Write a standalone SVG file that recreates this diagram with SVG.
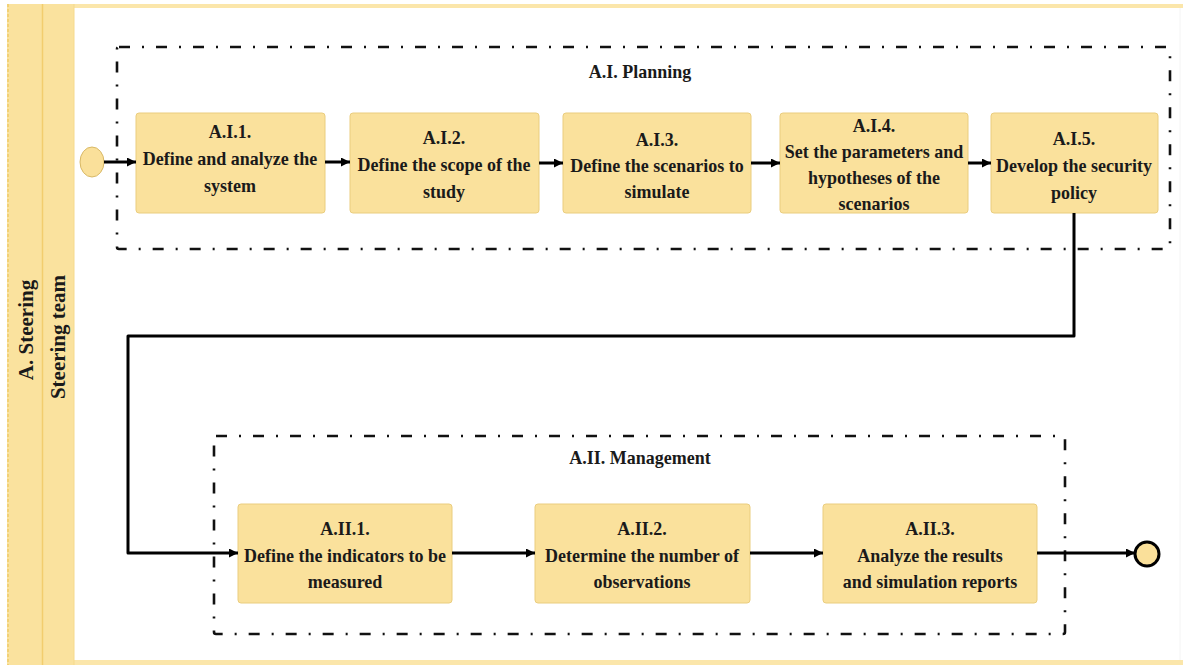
<svg xmlns="http://www.w3.org/2000/svg" width="1183" height="665" viewBox="0 0 1183 665">
  <style>
    .lane { fill: #FAE29E; }
    .lane-edge { stroke: #F2CD6E; stroke-width: 1.5; fill: none; }
    .task { fill: #FAE19C; stroke: #EACD7E; stroke-width: 1; }
    .frame { fill: none; stroke: #111; stroke-width: 2.6; stroke-dasharray: 11 12 2 12; }
    .flow { fill: none; stroke: #000; stroke-width: 3; stroke-linejoin: round; }
    text { font-family: "Liberation Serif", "Times New Roman", serif; font-weight: bold; font-size: 18px; fill: #1a1a1a; text-anchor: middle; dominant-baseline: central; }
    .tall { transform-box: fill-box; transform-origin: center; transform: scaleY(1.1); }
    .lane-label { font-size: 21px; }
  </style>
  <defs>
    <marker id="arrow" viewBox="0 0 10 10" refX="10" refY="5" markerWidth="10" markerHeight="9" markerUnits="userSpaceOnUse" orient="auto">
      <path d="M0,0 L10,5 L0,10 z" fill="#000"/>
    </marker>
  </defs>

  <!-- pool background -->
  <rect x="0" y="0" width="1183" height="665" fill="#fff"/>
  <rect x="7" y="4" width="1176" height="4" fill="#FBE6AA"/>
  <rect x="7" y="660" width="1176" height="5" fill="#FBE6AA"/>
  <line x1="1180" y1="8" x2="1180" y2="660" stroke="#F4F4F4" stroke-width="1"/>

  <!-- pool and lane headers -->
  <g id="pool-steering">
    <rect class="lane" x="7" y="4" width="35" height="661"/>
    <line x1="8" y1="4" x2="8" y2="665" stroke="#F0CC6A" stroke-width="1.5" stroke-dasharray="3 2"/>
    <text class="lane-label" transform="translate(26,330) rotate(-90)">A. Steering</text>
  </g>
  <g id="lane-steering-team">
    <rect class="lane" x="42" y="4" width="32" height="661"/>
    <line class="lane-edge" x1="42.5" y1="4" x2="42.5" y2="665"/>
    <line x1="74" y1="4" x2="74" y2="665" stroke="#F6DA8C" stroke-width="1"/>
    <text class="lane-label" transform="translate(58,337) rotate(-90)">Steering team</text>
  </g>

  <!-- sub-process frames -->
  <g id="planning">
    <rect class="frame" x="117" y="47" width="1053" height="202" rx="2"/>
    <text class="tall" x="640" y="71">A.I. Planning</text>
  </g>
  <g id="management">
    <rect class="frame" x="214" y="436" width="851" height="198" rx="2"/>
    <text class="tall" x="640" y="457">A.II. Management</text>
  </g>

  <!-- events -->
  <g id="start">
    <ellipse cx="92" cy="162" rx="12" ry="15" fill="#FAE09A" stroke="#D8B865" stroke-width="1"/>
  </g>
  <g id="end">
    <circle cx="1147" cy="554" r="12" fill="#FAE09A" stroke="#000" stroke-width="3"/>
  </g>

  <!-- tasks -->
  <g id="A.I.1">
    <rect class="task" x="136" y="113" width="189" height="100" rx="3"/>
    <text class="tall" x="230" y="131">A.I.1.</text>
    <text class="tall" x="230" y="158">Define and analyze the</text>
    <text class="tall" x="230" y="185">system</text>
  </g>
  <g id="A.I.2">
    <rect class="task" x="350" y="113" width="189" height="100" rx="3"/>
    <text class="tall" x="444" y="137">A.I.2.</text>
    <text class="tall" x="444" y="164">Define the scope of the</text>
    <text class="tall" x="444" y="191">study</text>
  </g>
  <g id="A.I.3">
    <rect class="task" x="563" y="113" width="188" height="100" rx="3"/>
    <text class="tall" x="657" y="139">A.I.3.</text>
    <text class="tall" x="657" y="165">Define the scenarios to</text>
    <text class="tall" x="657" y="191">simulate</text>
  </g>
  <g id="A.I.4">
    <rect class="task" x="780" y="113" width="188" height="100" rx="3"/>
    <text class="tall" x="874" y="125">A.I.4.</text>
    <text class="tall" x="874" y="151">Set the parameters and</text>
    <text class="tall" x="874" y="177">hypotheses of the</text>
    <text class="tall" x="874" y="203">scenarios</text>
  </g>
  <g id="A.I.5">
    <rect class="task" x="991" y="113" width="167" height="100" rx="3"/>
    <text class="tall" x="1074" y="138">A.I.5.</text>
    <text class="tall" x="1074" y="165">Develop the security</text>
    <text class="tall" x="1074" y="192">policy</text>
  </g>
  <g id="A.II.1">
    <rect class="task" x="238" y="504" width="214" height="99" rx="3"/>
    <text class="tall" x="345" y="528">A.II.1.</text>
    <text class="tall" x="345" y="555">Define the indicators to be</text>
    <text class="tall" x="345" y="581">measured</text>
  </g>
  <g id="A.II.2">
    <rect class="task" x="535" y="504" width="215" height="99" rx="3"/>
    <text class="tall" x="642" y="528">A.II.2.</text>
    <text class="tall" x="642" y="555">Determine the number of</text>
    <text class="tall" x="642" y="581">observations</text>
  </g>
  <g id="A.II.3">
    <rect class="task" x="823" y="504" width="214" height="99" rx="3"/>
    <text class="tall" x="930" y="528">A.II.3.</text>
    <text class="tall" x="930" y="555">Analyze the results</text>
    <text class="tall" x="930" y="581">and simulation reports</text>
  </g>

  <!-- sequence flows -->
  <g id="connectors">
    <path class="flow" d="M104,162 H136" marker-end="url(#arrow)"/>
    <path class="flow" d="M325,162 H350" marker-end="url(#arrow)"/>
    <path class="flow" d="M539,163 H563" marker-end="url(#arrow)"/>
    <path class="flow" d="M751,163 H780" marker-end="url(#arrow)"/>
    <path class="flow" d="M968,163 H991" marker-end="url(#arrow)"/>
    <path class="flow" d="M1074,213 V336 H128 V553 H238" marker-end="url(#arrow)"/>
    <path class="flow" d="M452,553 H535" marker-end="url(#arrow)"/>
    <path class="flow" d="M750,553 H823" marker-end="url(#arrow)"/>
    <path class="flow" d="M1037,553 H1135" marker-end="url(#arrow)"/>
  </g>
</svg>
